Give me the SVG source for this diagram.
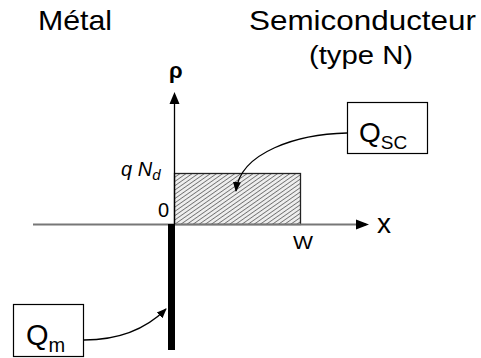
<svg xmlns="http://www.w3.org/2000/svg" width="481" height="358" viewBox="0 0 481 358">
<style>
text{font-family:"Liberation Sans",Arial,sans-serif;fill:#000}
.box{fill:#fff;stroke:#000;stroke-width:1.2}
.conn{fill:none;stroke:#000;stroke-width:1.3}
</style>
<defs>
<pattern id="hatch" width="3.5" height="3.5" patternUnits="userSpaceOnUse" patternTransform="rotate(55)">
<rect width="3.5" height="3.5" fill="#eeeeee"/>
<line x1="0" y1="0" x2="0" y2="3.5" stroke="#666" stroke-width="1.6"/>
</pattern>
<marker id="ah" markerWidth="10" markerHeight="10" refX="9" refY="5" orient="auto" markerUnits="userSpaceOnUse">
<path d="M0,1 L10,5 L0,9 Z" fill="#000"/>
</marker>
</defs>
<g id="titles">
<text x="38" y="30" font-size="28" textLength="74" lengthAdjust="spacingAndGlyphs">Métal</text>
<text x="249" y="30" font-size="28" textLength="227" lengthAdjust="spacingAndGlyphs">Semiconducteur</text>
<text x="309" y="64" font-size="25" textLength="104" lengthAdjust="spacingAndGlyphs">(type N)</text>
</g>
<g id="charge-sc">
<rect x="174.5" y="173.5" width="126" height="51" fill="url(#hatch)" stroke="#222" stroke-width="1.3"/>
</g>
<g id="axes">
<line x1="33" y1="224.5" x2="366" y2="224.5" stroke="#777" stroke-width="2"/>
<path d="M356,219.5 L369,224.5 L356,229.5 Z" fill="#000"/>
<line x1="174.5" y1="224" x2="174.5" y2="100" stroke="#000" stroke-width="1.3"/>
<path d="M169.5,104 L174.5,92 L179.5,104 Z" fill="#000"/>
<text x="169" y="78" font-size="22" font-weight="bold">ρ</text>
<text x="377" y="233" font-size="28">x</text>
<text x="293" y="249" font-size="18" textLength="20" lengthAdjust="spacingAndGlyphs">W</text>
<text x="158" y="217" font-size="20">0</text>
<text x="121" y="176" font-size="20" font-style="italic">q <tspan>N</tspan><tspan font-size="15" dy="4">d</tspan></text>
</g>
<g id="charge-m">
<rect x="168" y="224" width="7" height="126" fill="#000"/>
</g>
<g id="node-qsc">
<rect class="box" x="347.5" y="102.5" width="80" height="51"/>
<text x="359" y="142" font-size="28">Q<tspan font-size="19" dy="7">SC</tspan></text>
</g>
<g id="node-qm">
<rect class="box" x="13.5" y="304.5" width="70" height="52"/>
<text x="26" y="345" font-size="29">Q<tspan font-size="20" dy="7">m</tspan></text>
</g>
<g id="connectors">
<path class="conn" d="M347,133 C298,134 240,152 236,191" marker-end="url(#ah)"/>
<path class="conn" d="M84,340 C118,340 145,330 166,309" marker-end="url(#ah)"/>
</g>
</svg>
